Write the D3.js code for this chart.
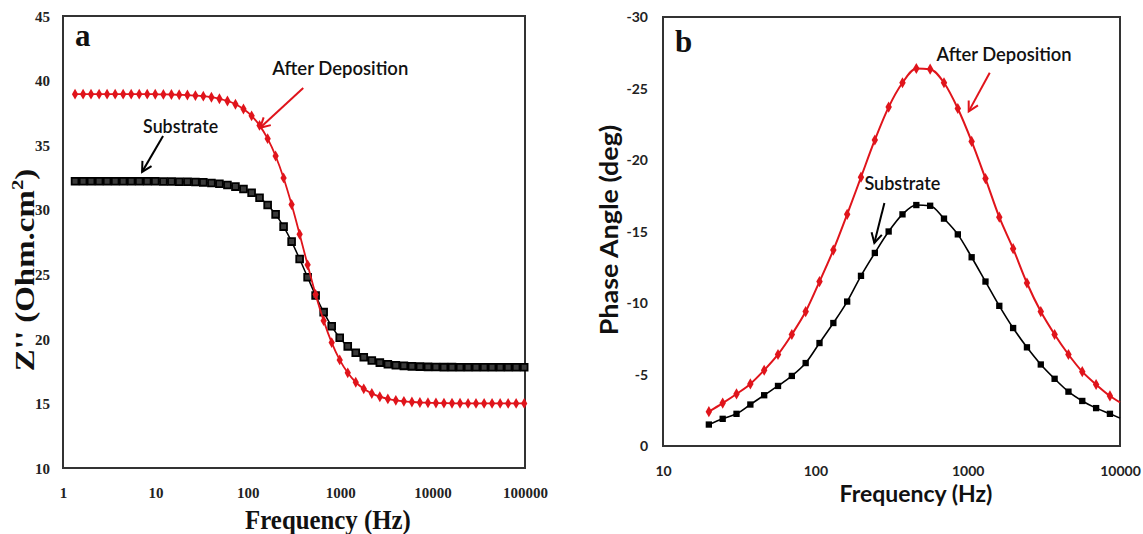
<!DOCTYPE html>
<html>
<head>
<meta charset="utf-8">
<script src="https://cdn.jsdelivr.net/npm/d3@7"></script>
<style>
  html, body { margin: 0; padding: 0; background: #fff; }
  svg { display: block; }
</style>
</head>
<body>
<svg id="chart" width="1143" height="534"></svg>
<script>
// ---------------- Panel a data ----------------
const freqA = [1.35,1.65,2.01,2.46,3.00,3.67,4.48,5.47,6.68,8.16,9.96,12.2,14.9,18.1,22.2,27.1,33.0,40.4,49.3,60.2,73.5,89.8,110,134,164,200,244,298,364,444,542,662,809,988,1207,1473,1799,2198,2685,3280,4000,4890,5970,7290,8910,10870,13270,16220,19810,24200,29500,36100,44000,53800,65700,80200,98000];
const zAfter = [38.95,38.95,38.95,38.95,38.95,38.95,38.95,38.95,38.95,38.95,38.94,38.93,38.92,38.90,38.88,38.84,38.79,38.71,38.59,38.42,38.17,37.80,37.27,36.53,35.50,34.16,32.46,30.40,28.10,25.73,23.44,21.41,19.71,18.37,17.37,16.64,16.13,15.77,15.52,15.35,15.24,15.16,15.11,15.07,15.05,15.03,15.02,15.01,15.01,15.00,15.00,15.00,15.00,15.00,15.00,15.00,15.00];
const zSubstrate = [32.20,32.20,32.20,32.20,32.20,32.20,32.20,32.20,32.20,32.20,32.20,32.19,32.18,32.17,32.16,32.14,32.12,32.07,32.01,31.92,31.79,31.60,31.32,30.93,30.37,29.64,28.69,27.53,26.18,24.77,23.36,22.07,20.97,20.09,19.42,18.93,18.58,18.33,18.16,18.04,17.96,17.91,17.87,17.85,17.83,17.82,17.81,17.81,17.80,17.80,17.80,17.80,17.80,17.80,17.80,17.80,17.80];
const xTicksA = [1, 10, 100, 1000, 10000, 100000];
const yTicksA = [10, 15, 20, 25, 30, 35, 40, 45];

// ---------------- Panel b data ----------------
// last entry (10000 Hz) is where the curves meet the frame
const freqB = [20,24.65,30.38,37.45,46.15,56.88,70.11,86.41,106.5,131.3,161.8,199.4,245.8,302.9,373.4,460.2,567.2,699.1,861.6,1062,1309,1613,1988,2450,3020,3722,4588,5654,6969,8589,10000];
const phaseAfter = [-2.4,-3.0,-3.64,-4.34,-5.3,-6.4,-7.8,-9.4,-11.5,-13.7,-16.2,-18.8,-21.4,-23.7,-25.4,-26.4,-26.35,-25.4,-23.6,-21.3,-18.7,-16.0,-13.8,-11.4,-9.4,-7.8,-6.4,-5.2,-4.3,-3.5,-3.05];
const phaseSubstrate = [-1.5,-1.9,-2.25,-2.9,-3.55,-4.2,-4.9,-5.8,-7.2,-8.6,-10.1,-11.9,-13.5,-15.0,-16.2,-16.85,-16.8,-15.9,-14.8,-13.2,-11.5,-9.8,-8.25,-6.9,-5.7,-4.7,-3.8,-3.15,-2.65,-2.25,-1.95];
const xTicksB = [10, 100, 1000, 10000];
const yTicksB = [0, -5, -10, -15, -20, -25, -30];

// annotations (data units)
const annotA = [
  {text: "After Deposition", tx: 184, ty: 40.44, width: 136, from: [398, 39.43], to: [136, 36.34], color: "#e0141b"},
  {text: "Substrate", tx: 7.36, ty: 35.95, width: 75, from: [12.1, 35.7], to: [7.18, 32.93], color: "#000"}
];
const annotB = [
  {text: "After Deposition", tx: 625, ty: -26.9, width: 135, from: [1396, -26.1], to: [1016, -23.4], color: "#e0141b"},
  {text: "Substrate", tx: 210, ty: -17.9, width: 76, from: [284, -17.0], to: [244, -14.2], color: "#000"}
];

const RED = "#e0141b";
const fmt = d => String(d);   // plain hyphen for negatives, as in the reference
const svg = d3.select("#chart");
svg.append("rect").attr("width", 1143).attr("height", 534).attr("fill", "#fff");

function drawArrow(g, x1, y1, x2, y2, color) {
  g.append("line").attr("x1", x1).attr("y1", y1).attr("x2", x2).attr("y2", y2)
    .attr("stroke", color).attr("stroke-width", 2);
  const ang = Math.atan2(y2 - y1, x2 - x1);
  const L = 11, spread = 0.5;
  const p1 = [x2 - L * Math.cos(ang - spread), y2 - L * Math.sin(ang - spread)];
  const p2 = [x2 - L * Math.cos(ang + spread), y2 - L * Math.sin(ang + spread)];
  g.append("path").attr("d", `M${p1[0]},${p1[1]}L${x2},${y2}L${p2[0]},${p2[1]}`)
    .attr("fill", "none").attr("stroke", color).attr("stroke-width", 2);
}

// ================= Panel a =================
{
  const L = 63, R = 525, T = 16, B = 468;
  const x = d3.scaleLog().domain([1, 100000]).range([L, R]);
  const y = d3.scaleLinear().domain([10, 45]).range([B, T]);
  const g = svg.append("g");
  const tickFont = "'Liberation Serif', 'Times New Roman', serif";

  g.append("rect").attr("x", L).attr("y", T).attr("width", R - L).attr("height", B - T)
    .attr("fill", "none").attr("stroke", "#333").attr("stroke-width", 2);

  const ya = g.append("g").attr("transform", `translate(${L - 10},0)`)
    .call(d3.axisLeft(y).tickValues(yTicksA).tickSize(0).tickFormat(fmt));
  ya.select(".domain").remove();
  ya.selectAll("text").attr("font-family", tickFont).attr("font-weight", "bold")
    .attr("font-size", 15).attr("fill", "#222").attr("dy", "0.35em");

  const xa = g.append("g").attr("transform", `translate(0,${B + 16})`)
    .call(d3.axisBottom(x).tickValues(xTicksA).tickSize(0).tickFormat(fmt));
  xa.select(".domain").remove();
  xa.selectAll("text").attr("font-family", tickFont).attr("font-weight", "bold")
    .attr("font-size", 15).attr("fill", "#222");

  const line = d3.line().x(d => x(d[0])).y(d => y(d[1])).curve(d3.curveMonotoneX);
  const sub = freqA.map((f, i) => [f, zSubstrate[i]]);
  const aft = freqA.map((f, i) => [f, zAfter[i]]);

  g.append("path").attr("d", line(sub)).attr("fill", "none").attr("stroke", "#000").attr("stroke-width", 1.5);
  g.selectAll(".sq").data(sub).join("path")
    .attr("transform", d => `translate(${x(d[0])},${y(d[1])})`)
    .attr("d", d3.symbol(d3.symbolSquare, 46))
    .attr("fill", "#3a3a3a").attr("stroke", "#000").attr("stroke-width", 1.8);

  g.append("path").attr("d", line(aft)).attr("fill", "none").attr("stroke", RED).attr("stroke-width", 1.8);
  g.selectAll(".dm").data(aft).join("path")
    .attr("transform", d => `translate(${x(d[0])},${y(d[1])})`)
    .attr("d", d3.symbol(d3.symbolDiamond, 34))
    .attr("fill", RED);

  annotA.forEach(a => {
    g.append("text").attr("x", x(a.tx)).attr("y", y(a.ty)).text(a.text)
      .attr("font-family", "Lato, 'Open Sans', sans-serif").attr("font-weight", 600)
      .attr("font-size", 19).attr("fill", "#111")
      .attr("textLength", a.width).attr("lengthAdjust", "spacingAndGlyphs");
    drawArrow(g, x(a.from[0]), y(a.from[1]), x(a.to[0]), y(a.to[1]), a.color);
  });

  g.append("text").attr("x", 75).attr("y", 46).text("a")
    .attr("font-family", tickFont).attr("font-weight", "bold").attr("font-size", 31).attr("fill", "#111");

  const yl = g.append("text").attr("transform", "translate(34,270) rotate(-90) scale(1.22,1)")
    .attr("text-anchor", "middle").attr("font-family", tickFont).attr("font-weight", "bold")
    .attr("font-size", 27).attr("fill", "#111");
  yl.append("tspan").text("Z'' (Ohm.cm");
  yl.append("tspan").text("2").attr("font-size", 17).attr("dy", -11);
  yl.append("tspan").text(")").attr("dy", 11);

  g.append("text").attr("transform", "translate(328,529) scale(0.92,1)").attr("text-anchor", "middle")
    .attr("font-family", tickFont).attr("font-weight", "bold").attr("font-size", 27)
    .attr("fill", "#111").text("Frequency (Hz)");
}

// ================= Panel b =================
{
  const L = 663, R = 1120, T = 17, B = 446;
  const x = d3.scaleLog().domain([10, 10000]).range([L, R]);
  const y = d3.scaleLinear().domain([0, -30]).range([B, T]);
  const g = svg.append("g");
  const sans = "Lato, 'Open Sans', sans-serif";

  g.append("rect").attr("x", L).attr("y", T).attr("width", R - L).attr("height", B - T)
    .attr("fill", "none").attr("stroke", "#333").attr("stroke-width", 2);

  const ya = g.append("g").attr("transform", `translate(${L - 12},0)`)
    .call(d3.axisLeft(y).tickValues(yTicksB).tickSize(0).tickFormat(fmt));
  ya.select(".domain").remove();
  ya.selectAll("text").attr("font-family", sans).attr("font-weight", "bold")
    .attr("font-size", 14).attr("fill", "#222").attr("dy", "0.35em");

  const xa = g.append("g").attr("transform", `translate(0,${B + 17})`)
    .call(d3.axisBottom(x).tickValues(xTicksB).tickSize(0).tickFormat(fmt));
  xa.select(".domain").remove();
  xa.selectAll("text").attr("font-family", sans).attr("font-weight", "bold")
    .attr("font-size", 14).attr("fill", "#222");

  const line = d3.line().x(d => x(d[0])).y(d => y(d[1])).curve(d3.curveMonotoneX);
  const sub = freqB.map((f, i) => [f, phaseSubstrate[i]]);
  const aft = freqB.map((f, i) => [f, phaseAfter[i]]);
  const inside = d => d[0] < 10000;

  g.append("path").attr("d", line(sub)).attr("fill", "none").attr("stroke", "#000").attr("stroke-width", 1.6);
  g.selectAll(".sq").data(sub.filter(inside)).join("path")
    .attr("transform", d => `translate(${x(d[0])},${y(d[1])})`)
    .attr("d", d3.symbol(d3.symbolSquare, 40))
    .attr("fill", "#000");

  g.append("path").attr("d", line(aft)).attr("fill", "none").attr("stroke", RED).attr("stroke-width", 2);
  g.selectAll(".dm").data(aft.filter(inside)).join("path")
    .attr("transform", d => `translate(${x(d[0])},${y(d[1])})`)
    .attr("d", d3.symbol(d3.symbolDiamond, 36))
    .attr("fill", RED);

  annotB.forEach(a => {
    g.append("text").attr("x", x(a.tx)).attr("y", y(a.ty)).text(a.text)
      .attr("font-family", sans).attr("font-weight", 600)
      .attr("font-size", 19).attr("fill", "#111")
      .attr("textLength", a.width).attr("lengthAdjust", "spacingAndGlyphs");
    drawArrow(g, x(a.from[0]), y(a.from[1]), x(a.to[0]), y(a.to[1]), a.color);
  });

  g.append("text").attr("x", 675).attr("y", 52).text("b")
    .attr("font-family", "'Liberation Serif', serif").attr("font-weight", "bold").attr("font-size", 31).attr("fill", "#111");

  g.append("text").attr("transform", "translate(618,230) rotate(-90) scale(1.12,1)")
    .attr("text-anchor", "middle").attr("font-family", sans).attr("font-weight", "bold")
    .attr("font-size", 24).attr("fill", "#111").text("Phase Angle (deg)");

  g.append("text").attr("x", 916).attr("y", 502).attr("text-anchor", "middle")
    .attr("font-family", sans).attr("font-weight", "bold").attr("font-size", 23)
    .attr("fill", "#111").text("Frequency (Hz)");
}
</script>
</body>
</html>
